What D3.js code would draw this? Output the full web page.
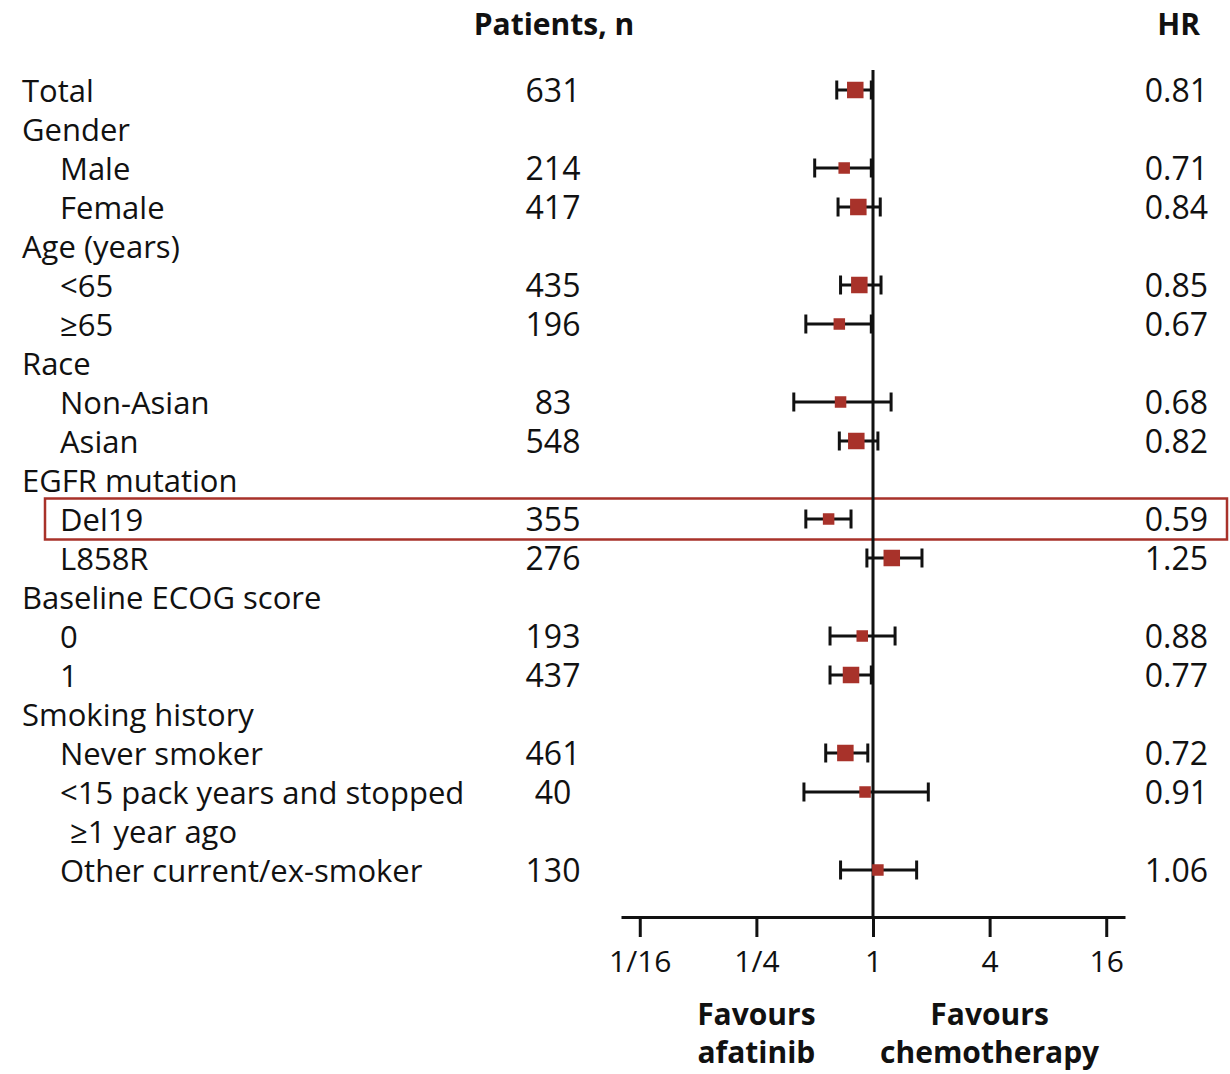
<!DOCTYPE html>
<html>
<head>
<meta charset="utf-8">
<script src="https://cdn.jsdelivr.net/npm/d3@7"></script>
<style>
  html, body { margin: 0; padding: 0; background: #fff; }
  svg { display: block; }
  text { font-family: "Open Sans", Lato, sans-serif; fill: #111; }
</style>
</head>
<body>
<svg id="chart" width="1230" height="1074"></svg>
<script>
// ---------------- DATA ----------------
const labels = ["Total", "Gender", "Male", "Female", "Age (years)", "<65", "≥65", "Race",
  "Non-Asian", "Asian", "EGFR mutation", "Del19", "L858R", "Baseline ECOG score", "0", "1",
  "Smoking history", "Never smoker", "<15 pack years and stopped", "≥1 year ago", "Other current/ex-smoker"];
const levels   = [0, 0, 1, 1, 0, 1, 1, 0, 1, 1, 0, 1, 1, 0, 1, 1, 0, 1, 1, 2, 1];
const patients = [631, null, 214, 417, null, 435, 196, null, 83, 548, null, 355, 276, null, 193, 437, null, 461, 40, null, 130];
const hr       = [0.81, null, 0.71, 0.84, null, 0.85, 0.67, null, 0.68, 0.82, null, 0.59, 1.25, null, 0.88, 0.77, null, 0.72, 0.91, null, 1.06];
const ciLow    = [0.65, null, 0.50, 0.66, null, 0.68, 0.45, null, 0.39, 0.67, null, 0.45, 0.93, null, 0.60, 0.60, null, 0.57, 0.44, null, 0.68];
const ciHigh   = [0.98, null, 0.98, 1.09, null, 1.10, 0.98, null, 1.24, 1.06, null, 0.77, 1.79, null, 1.30, 0.98, null, 0.94, 1.93, null, 1.68];
const weightClass = ["large", null, "small", "large", null, "large", "small", null, "small", "large", null,
  "small", "large", null, "small", "large", null, "large", "small", null, "small"];
const tickValues = [1/16, 1/4, 1, 4, 16];
const tickLabels = ["1/16", "1/4", "1", "4", "16"];
const highlightRow = "Del19";
const headers = { n: "Patients, n", hr: "HR" };
const favourLeft = ["Favours", "afatinib"];
const favourRight = ["Favours", "chemotherapy"];

// ---------------- STYLE ----------------
const red = "#a8322a";
const markerSize = { large: 16.5, small: 11.5 };
const labelSize = 31;
const numSize = 32;
const boldSize = 30;
const tickSize = 30;

const svg = d3.select("#chart");
const rows = d3.range(labels.length);

const y = d3.scalePoint().domain(rows).range([90, 870]);
const x = d3.scaleLog().base(2).domain([0.05, 20]).range([621, 1125]);
const labelX = d3.scaleOrdinal().domain([0, 1, 2]).range([22, 60, 70]);

// headers
svg.append("text").attr("x", 554).attr("y", 35).attr("text-anchor", "middle")
  .attr("font-size", boldSize).attr("font-weight", "bold").text(headers.n);
svg.append("text").attr("x", 1200).attr("y", 35).attr("text-anchor", "end")
  .attr("font-size", boldSize).attr("font-weight", "bold").text(headers.hr);

// highlight box
const hi = labels.indexOf(highlightRow);
svg.append("rect")
  .attr("x", 45).attr("y", y(hi) - 20.5)
  .attr("width", 1182).attr("height", 41)
  .attr("fill", "none").attr("stroke", red).attr("stroke-width", 2.5);

// labels
svg.append("g").selectAll("text").data(rows).join("text")
  .attr("x", i => labelX(levels[i]))
  .attr("y", i => y(i) + 11.5)
  .attr("font-size", labelSize)
  .text(i => labels[i]);

// patients
svg.append("g").selectAll("text").data(rows.filter(i => patients[i] != null)).join("text")
  .attr("x", 553).attr("y", i => y(i) + 11.5)
  .attr("text-anchor", "middle").attr("font-size", numSize)
  .text(i => patients[i]);

// HR values
svg.append("g").selectAll("text").data(rows.filter(i => hr[i] != null)).join("text")
  .attr("x", 1208).attr("y", i => y(i) + 11.5)
  .attr("text-anchor", "end").attr("font-size", numSize)
  .text(i => hr[i].toFixed(2));

// axis
const axisY = 917;
const axis = d3.axisBottom(x).tickValues(tickValues)
  .tickFormat((d, i) => tickLabels[i]).tickSize(20).tickSizeOuter(0);
const gAxis = svg.append("g").attr("transform", `translate(0,${axisY})`).call(axis);
gAxis.select(".domain").attr("stroke", "#111").attr("stroke-width", 3);
gAxis.selectAll(".tick line").attr("stroke", "#111").attr("stroke-width", 3);
gAxis.selectAll(".tick text").attr("y", 55).attr("dy", null)
  .attr("font-size", tickSize).attr("font-family", "'Open Sans', Lato, sans-serif").attr("fill", "#111");

// reference line at HR = 1
svg.append("line").attr("x1", x(1)).attr("x2", x(1)).attr("y1", 70).attr("y2", axisY)
  .attr("stroke", "#111").attr("stroke-width", 3);

// error bars
const est = rows.filter(i => hr[i] != null);
const gBars = svg.append("g").attr("stroke", "#111").attr("stroke-width", 3);
gBars.selectAll("line.ci").data(est).join("line").attr("class", "ci")
  .attr("x1", i => x(ciLow[i])).attr("x2", i => x(ciHigh[i]))
  .attr("y1", i => y(i)).attr("y2", i => y(i));
gBars.selectAll("line.capL").data(est).join("line").attr("class", "capL")
  .attr("x1", i => x(ciLow[i])).attr("x2", i => x(ciLow[i]))
  .attr("y1", i => y(i) - 9.5).attr("y2", i => y(i) + 9.5);
gBars.selectAll("line.capR").data(est).join("line").attr("class", "capR")
  .attr("x1", i => x(ciHigh[i])).attr("x2", i => x(ciHigh[i]))
  .attr("y1", i => y(i) - 9.5).attr("y2", i => y(i) + 9.5);

// point estimates
svg.append("g").selectAll("rect").data(est).join("rect")
  .attr("x", i => x(hr[i]) - markerSize[weightClass[i]] / 2)
  .attr("y", i => y(i) - markerSize[weightClass[i]] / 2)
  .attr("width", i => markerSize[weightClass[i]])
  .attr("height", i => markerSize[weightClass[i]])
  .attr("fill", red);

// favours labels
function favour(lines, cx) {
  svg.append("g").selectAll("text").data(lines).join("text")
    .attr("x", cx).attr("y", (d, i) => 1025 + i * 38)
    .attr("text-anchor", "middle").attr("font-size", boldSize).attr("font-weight", "bold")
    .text(d => d);
}
favour(favourLeft, x(1/4));
favour(favourRight, x(4));
</script>
</body>
</html>
